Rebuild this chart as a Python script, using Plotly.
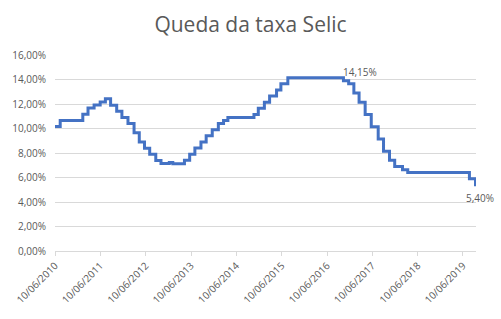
import plotly.graph_objects as go

# Step changes of the effective Selic rate (% a.a.)
change_dates = [
    "2010-06-10", "2010-07-22", "2011-01-20", "2011-03-03", "2011-04-21",
    "2011-06-09", "2011-07-21", "2011-09-01", "2011-10-20", "2011-12-01",
    "2012-01-19", "2012-03-08", "2012-04-19", "2012-05-31", "2012-07-12",
    "2012-08-30", "2012-10-11", "2012-12-17", "2013-01-14", "2013-04-18",
    "2013-05-30", "2013-07-11", "2013-08-29", "2013-10-10", "2013-11-28",
    "2014-01-16", "2014-02-27", "2014-04-03", "2014-10-30", "2014-12-04",
    "2015-01-22", "2015-03-05", "2015-04-30", "2015-06-04", "2015-07-30",
    "2016-10-20", "2016-12-01", "2017-01-12", "2017-02-23", "2017-04-13",
    "2017-06-01", "2017-07-27", "2017-09-08", "2017-10-26", "2017-12-07",
    "2018-02-08", "2018-03-22", "2019-08-01", "2019-09-19", "2019-09-23",
]
selic = [
    10.16, 10.66, 11.17, 11.67, 11.92,
    12.17, 12.42, 11.90, 11.40, 10.90,
    10.40, 9.65, 8.89, 8.39, 7.89,
    7.39, 7.14, 7.22, 7.12, 7.40,
    7.90, 8.40, 8.90, 9.40, 9.90,
    10.40, 10.65, 10.90, 11.15, 11.65,
    12.15, 12.65, 13.15, 13.65, 14.15,
    13.90, 13.65, 12.90, 12.15, 11.15,
    10.14, 9.15, 8.14, 7.40, 6.90,
    6.64, 6.40, 5.90, 5.40, 5.40,
]

tick_dates = ["2010-06-10", "2011-06-10", "2012-06-10", "2013-06-10", "2014-06-10",
              "2015-06-10", "2016-06-10", "2017-06-10", "2018-06-10", "2019-06-10"]
tick_labels = ["10/06/2010", "10/06/2011", "10/06/2012", "10/06/2013", "10/06/2014",
               "10/06/2015", "10/06/2016", "10/06/2017", "10/06/2018", "10/06/2019"]
y_ticks = [0, 2, 4, 6, 8, 10, 12, 14, 16]
y_tick_labels = ["0,00%", "2,00%", "4,00%", "6,00%", "8,00%",
                 "10,00%", "12,00%", "14,00%", "16,00%"]

peak_date = "2016-10-19"
peak_value = 14.15
last_date = change_dates[-1]
last_value = selic[-1]

def fmt(v):
    return f"{v:.2f}".replace(".", ",") + "%"

grey = "#595959"
font = "Open Sans"

fig = go.Figure()
fig.add_trace(go.Scatter(
    x=change_dates, y=selic, mode="lines", line_shape="hv",
    line=dict(color="#4472C4", width=3), hoverinfo="skip", showlegend=False,
))

fig.add_annotation(x=peak_date, y=peak_value, text=fmt(peak_value), showarrow=False,
                   xanchor="left", yanchor="bottom", xshift=-2, yshift=-3,
                   font=dict(family=font, size=10, color=grey))
fig.add_annotation(x=last_date, y=last_value, text=fmt(last_value), showarrow=False,
                   xanchor="center", yanchor="top", xshift=4, yshift=-4,
                   font=dict(family=font, size=10, color=grey))

fig.update_layout(
    width=501, height=319,
    margin=dict(l=55, r=25, t=55, b=68),
    paper_bgcolor="white", plot_bgcolor="white",
    separators=",.",
    title=dict(text="Queda da taxa Selic", x=0.5, xanchor="center",
               y=1 - 25 / 319, yanchor="middle", yref="container",
               font=dict(family=font, size=21, color=grey)),
    xaxis=dict(
        type="date", range=["2010-06-10", last_date],
        tickmode="array", tickvals=tick_dates, ticktext=tick_labels,
        tickangle=-45, tickfont=dict(family=font, size=10, color=grey),
        showgrid=False, showline=True, linecolor="#d9d9d9", linewidth=1,
        ticks="outside", ticklen=4, tickcolor="#d9d9d9", zeroline=False,
    ),
    yaxis=dict(
        range=[0, 16], tickmode="array", tickvals=y_ticks, ticktext=y_tick_labels,
        tickfont=dict(family=font, size=10, color=grey),
        showgrid=True, gridcolor="#d9d9d9", gridwidth=1,
        zeroline=False, showline=False, ticks="", ticklabelstandoff=8,
    ),
)

fig.write_html("out.html")
